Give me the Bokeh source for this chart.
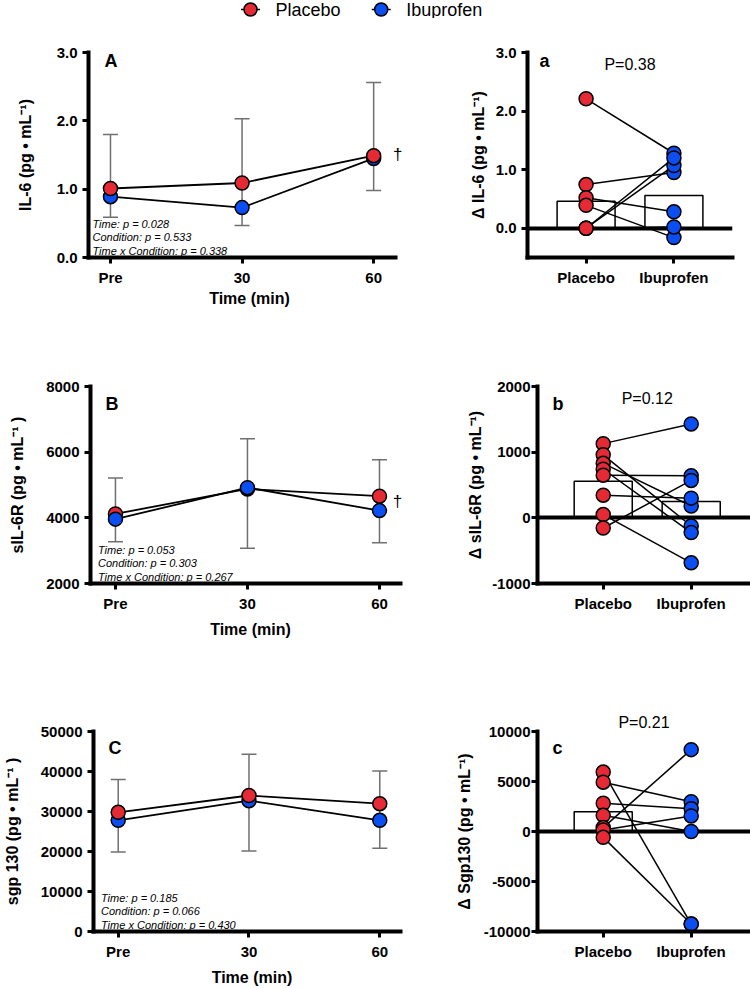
from bokeh.plotting import figure
from bokeh.layouts import column, row
from bokeh.models import (ColumnDataSource, FixedTicker, Range1d, Label, Whisker,
                          TeeHead, NumeralTickFormatter, Title)
from bokeh.core.properties import value
from bokeh.embed import file_html
from bokeh.resources import INLINE

FONT = "Liberation Sans"
RED = "#E52935"
BLUE = "#0B4FF2"
GRAY = "#707070"

# ---------------- data ----------------
groups = ["Placebo", "Ibuprofen"]
time_labels = ["Pre", "30", "60"]

il6_placebo = [1.01, 1.09, 1.49]
il6_ibuprofen = [0.89, 0.73, 1.45]
il6_err_upper = [1.80, 2.03, 2.56]
il6_err_lower = [0.59, 0.47, 0.98]
il6_ticks = [0, 1, 2, 3]
il6_stats = ["Time: p = 0.028", "Condition: p = 0.533", "Time x Condition: p = 0.338"]

sil6r_placebo = [4120, 4880, 4660]
sil6r_ibuprofen = [3960, 4920, 4220]
sil6r_err_upper = [5210, 6410, 5770]
sil6r_err_lower = [3270, 3070, 3240]
sil6r_ticks = [2000, 4000, 6000, 8000]
sil6r_stats = ["Time: p = 0.053", "Condition: p = 0.303", "Time x Condition: p = 0.267"]

sgp130_placebo = [29800, 34000, 31950]
sgp130_ibuprofen = [27800, 32700, 27800]
sgp130_err_upper = [38000, 44300, 40100]
sgp130_err_lower = [19900, 20100, 20800]
sgp130_ticks = [0, 10000, 20000, 30000, 40000, 50000]
sgp130_stats = ["Time: p = 0.185", "Condition: p = 0.066", "Time x Condition: p = 0.430"]

d_il6_placebo = [2.21, 0.745, 0.0, 0.0, 0.52, 0.39, 0.0]
d_il6_ibuprofen = [1.28, 0.95, 1.07, 1.20, 0.28, -0.16, 0.02]
d_il6_mean = [0.46, 0.56]
d_il6_ticks = [0, 1, 2, 3]
d_il6_p = "P=0.38"

d_sil6r_placebo = [1130, 960, 830, 740, 650, 345, 50, -155]
d_sil6r_ibuprofen = [1430, -125, 180, -225, 640, 300, -685, 570]
d_sil6r_mean = [556, 249]
d_sil6r_ticks = [-1000, 0, 1000, 2000]
d_sil6r_p = "P=0.12"

d_sgp130_placebo = [5945, 4932, 2826, 1620, 390, 150, -585]
d_sgp130_ibuprofen = [-9259, 2982, 2271, 0, 8187, 1559, -9259]
d_sgp130_mean = [1980, 65]
d_sgp130_ticks = [-10000, -5000, 0, 5000, 10000]
d_sgp130_p = "P=0.21"


def base_fig(width, height, borders, xr, yr):
    left, right, top, bottom = borders
    p = figure(width=width, height=height, x_range=Range1d(*xr), y_range=Range1d(*yr),
               output_backend="svg", toolbar_location=None, title=None,
               min_border_left=left, min_border_right=right,
               min_border_top=top, min_border_bottom=bottom)
    p.outline_line_color = None
    p.xgrid.visible = False
    p.ygrid.visible = False
    p.background_fill_color = "white"
    p.border_fill_color = "white"
    return p


def style_axes(p, xticks, xlabels, yticks, yfmt, ylabel, ystand, xbounds, ybounds,
               xlabel=None, ylab_standoff=5, xlab_standoff=6):
    for ax in (p.xaxis[0], p.yaxis[0]):
        ax.axis_line_width = 4
        ax.axis_line_color = "black"
        ax.axis_line_cap = "square"
        ax.major_tick_line_width = 3
        ax.major_tick_line_color = "black"
        ax.major_tick_out = 6
        ax.major_tick_in = 0
        ax.minor_tick_line_color = None
        ax.major_label_text_font = FONT
        ax.major_label_text_font_style = "bold"
        ax.major_label_text_font_size = "15px"
        ax.major_label_text_color = "black"
        ax.axis_label_text_font = FONT
        ax.axis_label_text_font_style = "bold"
        ax.axis_label_text_font_size = "16px"
        ax.axis_label_text_color = "black"
    p.xaxis.bounds = xbounds
    p.yaxis.bounds = ybounds
    p.xaxis.ticker = FixedTicker(ticks=xticks)
    p.xaxis.major_label_overrides = {t: l for t, l in zip(xticks, xlabels)}
    p.yaxis.ticker = FixedTicker(ticks=yticks)
    p.yaxis.formatter = NumeralTickFormatter(format=yfmt)
    p.yaxis.axis_label = ylabel
    p.yaxis.axis_label_standoff = ystand
    p.yaxis.major_label_standoff = ylab_standoff
    if xlabel:
        p.xaxis.axis_label = xlabel
        p.xaxis.axis_label_standoff = xlab_standoff


def letter(p, x0, ytop, txt, dx, dy):
    p.add_layout(Label(x=x0, y=ytop, x_offset=dx, y_offset=-dy, text=txt,
                       text_font=FONT, text_font_style="bold", text_font_size="18px",
                       text_baseline="alphabetic", text_color="black"))


def time_panel(width, height, borders, xr, xb, yr, yticks, yfmt, ylabel, ystand,
               placebo, ibu, upper, lower, let, let_off, stats, stats_dx,
               dagger=None, red_on_top=True, xlab_standoff=6):
    p = base_fig(width, height, borders, xr, yr)
    x = list(range(len(time_labels)))
    src = ColumnDataSource(dict(x=x, placebo=placebo, ibu=ibu, upper=upper, lower=lower))
    p.add_layout(Whisker(source=src, base="x", upper="upper", lower="lower",
                         line_color=GRAY, line_width=1.5, level="underlay",
                         upper_head=TeeHead(size=15, line_color=GRAY, line_width=1.5),
                         lower_head=TeeHead(size=15, line_color=GRAY, line_width=1.5)))
    p.line("x", "ibu", source=src, line_color="black", line_width=1.8)
    p.line("x", "placebo", source=src, line_color="black", line_width=1.8)
    order = [("ibu", BLUE), ("placebo", RED)] if red_on_top else [("placebo", RED), ("ibu", BLUE)]
    for col, colr in order:
        p.scatter("x", col, source=src, size=14, fill_color=colr,
                  line_color="black", line_width=1.5)
    style_axes(p, x, time_labels, yticks, yfmt, ylabel, ystand, xb, yr, xlabel="Time (min)",
               xlab_standoff=xlab_standoff)
    letter(p, xr[0], yr[1], let, *let_off)
    for i, s in enumerate(stats):
        p.add_layout(Label(x=xr[0], y=yr[0], x_offset=stats_dx,
                           y_offset=7 + 13.3 * (len(stats) - 1 - i), text=s,
                           text_font=FONT, text_font_style="italic", text_font_size="11px",
                           text_baseline="alphabetic", text_color="black"))
    if dagger is not None:
        dxo, dyo = dagger
        p.add_layout(Label(x=x[-1], y=placebo[-1], x_offset=dxo, y_offset=dyo, text="\u2020",
                           text_font=FONT, text_font_size="17px", text_align="center",
                           text_baseline="middle", text_color="black"))
    return p


def pair_panel(width, height, borders, xr, yr, yticks, yfmt, ylabel, ystand,
               placebo, ibu, means, let, let_off, ptxt, p_dy, lab_standoff, p_above=False):
    p = base_fig(width, height, borders, xr, yr)
    gx = list(range(len(groups)))
    bars = ColumnDataSource(dict(x=gx, top=means))
    p.vbar(x="x", top="top", bottom=0, width=0.66, source=bars, fill_color="white",
           line_color="black", line_width=1.5)
    p.hspan(y=[0], line_color="black", line_width=4)
    n = len(placebo)
    pairs = ColumnDataSource(dict(x0=[gx[0]] * n, x1=[gx[1]] * n, y0=placebo, y1=ibu))
    p.segment(x0="x0", y0="y0", x1="x1", y1="y1", source=pairs, line_color="black",
              line_width=1.5)
    p.scatter("x0", "y0", source=pairs, size=14, fill_color=RED, line_color="black",
              line_width=1.5)
    p.scatter("x1", "y1", source=pairs, size=14, fill_color=BLUE, line_color="black",
              line_width=1.5)
    style_axes(p, gx, groups, yticks, yfmt, ylabel, ystand, xr, yr, ylab_standoff=lab_standoff)
    letter(p, xr[0], yr[1], let, *let_off)
    if p_above:
        # P-value sits above the plotting frame: use a title so it is not clipped
        p.add_layout(Title(text=ptxt, align="center", offset=2.5, standoff=p_dy,
                           text_font=FONT, text_font_size="16px", text_font_style="normal",
                           text_color="black"), "above")
    else:
        p.add_layout(Label(x=(gx[0] + gx[1]) / 2, y=yr[1], y_offset=p_dy, text=ptxt,
                           text_font=FONT, text_font_size="16px", text_align="center",
                           text_baseline="alphabetic", text_color="black"))
    return p


# ---------------- legend strip ----------------
leg = figure(width=750, height=18, x_range=Range1d(-250 / 130.7, 500 / 130.7),
             y_range=Range1d(-1, 1), output_backend="svg", toolbar_location=None,
             title=None, x_axis_location=None, y_axis_location=None,
             min_border_left=0, min_border_right=0, min_border_top=0, min_border_bottom=0)
leg.outline_line_color = None
leg.xgrid.visible = False
leg.ygrid.visible = False
lx = list(range(len(groups)))
ly = [0] * len(groups)
leg.scatter(lx, ly, marker="dash", size=19, line_color="black", line_width=1.5)
leg.scatter(lx, ly, size=13, fill_color=[RED, BLUE], line_color="black", line_width=1.5)
leg.text(lx, ly, text=groups, x_offset=25, text_baseline="middle",
         text_font=value(FONT), text_font_size="18px", text_color="black")

# ---------------- panels ----------------
# A: frame 88..410 px, axis line stops at 2.165 (395 px)
xrA, xbA = (-0.167, 2.280), (-0.167, 2.165)
# B/C: frame 90..410 px, axis line stops at 2.159 (400 px)
xrBC, xbBC = (-0.189, 2.235), (-0.189, 2.159)
xra = (-0.667, 1.667)
xrbc = (-0.747, 1.674)

pA = time_panel(420, 302, (88, 10, 34, 63), xrA, xbA, (0, 3), il6_ticks, "0.0",
                "IL-6 (pg \u2022 mL\u207b\u00b9)", 20,
                il6_placebo, il6_ibuprofen, il6_err_upper, il6_err_lower,
                "A", (16, 8), il6_stats, 4, dagger=(24, 1), xlab_standoff=1)
pa = pair_panel(330, 302, (107, 18, 34, 63), xra, (-0.5, 3), d_il6_ticks, "0.0",
                "\u0394 IL-6 (pg \u2022 mL\u207b\u00b9)", 6,
                d_il6_placebo, d_il6_ibuprofen, d_il6_mean, "a", (12, 8), d_il6_p, -12.3, 5)

pB = time_panel(420, 320, (90, 10, 66, 49), xrBC, xbBC, (2000, 8000),
                sil6r_ticks, "0", "sIL-6R (pg \u2022 mL\u207b\u00b9 )", 17,
                sil6r_placebo, sil6r_ibuprofen, sil6r_err_upper, sil6r_err_lower,
                "B", (15, 17), sil6r_stats, 7.5, dagger=(18, -5), red_on_top=False)
pb = pair_panel(330, 320, (117, 0, 66, 49), xrbc, (-1000, 2000), d_sil6r_ticks, "0",
                "\u0394 sIL-6R (pg \u2022 mL\u207b\u00b9)", 5,
                d_sil6r_placebo, d_sil6r_ibuprofen, d_sil6r_mean, "b", (15, 17.5), d_sil6r_p, -12, 1)

pC = time_panel(420, 348, (90, 10, 91, 52), xrBC, xbBC, (0, 50000),
                sgp130_ticks, "0", "sgp 130 (pg \u2022 mL\u207b\u00b9 )", 17,
                sgp130_placebo, sgp130_ibuprofen, sgp130_err_upper, sgp130_err_lower,
                "C", (15, 16), sgp130_stats, 7.5)
pc = pair_panel(330, 348, (117, 0, 91, 52), xrbc, (-10000, 10000),
                d_sgp130_ticks, "0",
                "\u0394 Sgp130 (pg \u2022 mL\u207b\u00b9)", 8,
                d_sgp130_placebo, d_sgp130_ibuprofen, d_sgp130_mean, "c", (15, 16), d_sgp130_p, 2, 1,
                p_above=True)

layout = column(leg, row(pA, pa), row(pB, pb), row(pC, pc))

open("out.html", "w").write(file_html(layout, INLINE))
